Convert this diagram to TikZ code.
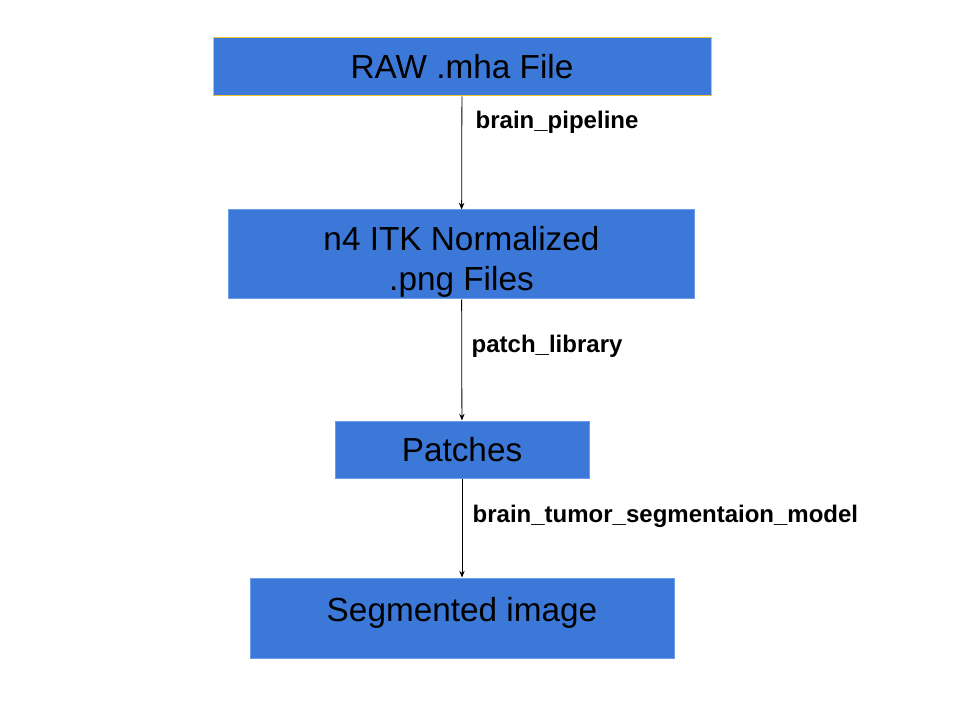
\documentclass[tikz,border=0pt]{standalone}
\usepackage{fontspec}
\setmainfont{Liberation Sans}
\usetikzlibrary{arrows.meta}
\definecolor{boxblue}{HTML}{3C78D8}
\definecolor{edgeblue}{HTML}{6D9EEB}
\definecolor{edgegold}{HTML}{F1C232}
\begin{document}
\begin{tikzpicture}[x=0.75pt, y=-0.75pt,
  stage/.style={rectangle, fill=boxblue, draw=edgeblue, line width=0.75pt, inner sep=0pt, align=center, font=\fontsize{25}{30}\selectfont},
  flow/.style={-{Stealth[length=5pt, width=4pt]}, line width=0.6pt},
  tool/.style={anchor=west, font=\fontsize{18}{21}\selectfont\bfseries}]

\useasboundingbox (0,0) rectangle (960,720);

\node[stage, draw=edgegold, minimum width=373.5pt, minimum height=43.5pt] (raw) at (462,67) {RAW .mha File};
\node[stage, minimum width=350pt, minimum height=66.75pt] (norm) at (461.5,254.5)
  {\raisebox{-6pt}[\height][\depth]{\begin{tabular}{@{}c@{}}n4 ITK Normalized\\.png Files\end{tabular}}};
\node[stage, minimum width=190.5pt, minimum height=42.75pt] (patch) at (462,449.5) {Patches};
\node[stage, minimum width=318pt, minimum height=60pt] (seg) at (462,618)
  {\raisebox{3.75pt}[\height][\depth]{Segmented image}};

\draw[flow] (raw) -- (norm);
\draw[flow] (norm) -- (patch);
\draw[flow] (patch) -- (seg);

\node[tool] (lblraw) at (471,122) {brain\_pipeline};
\node[tool] (lblnorm) at (467,346) {patch\_library};
\node[tool] (lblpatch) at (468,516) {brain\_tumor\_segmentaion\_model};
\end{tikzpicture}
\end{document}
